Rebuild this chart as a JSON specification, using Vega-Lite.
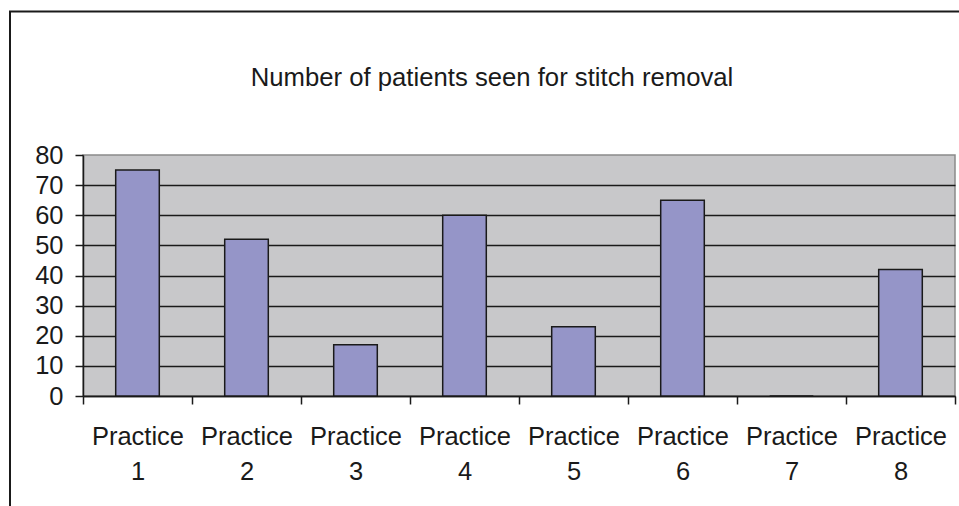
{
  "$schema": "https://vega.github.io/schema/vega-lite/v6.json",
  "width": 872,
  "height": 241,
  "autosize": {"type": "none"},
  "padding": {"left": 83, "top": 155, "right": 4, "bottom": 110},
  "background": "white",
  "title": {
    "text": "Number of patients seen for stitch removal",
    "font": "Liberation Sans",
    "fontSize": 25.7,
    "fontWeight": "normal",
    "color": "#1a1a1a",
    "anchor": "middle",
    "frame": "group",
    "dx": -27,
    "dy": 131,
    "baseline": "alphabetic",
    "offset": 30
  },
  "data": {
    "values": [
      {"practice": "Practice 1", "patients": 75},
      {"practice": "Practice 2", "patients": 52},
      {"practice": "Practice 3", "patients": 17},
      {"practice": "Practice 4", "patients": 60},
      {"practice": "Practice 5", "patients": 23},
      {"practice": "Practice 6", "patients": 65},
      {"practice": "Practice 7", "patients": 0},
      {"practice": "Practice 8", "patients": 42}
    ]
  },
  "mark": {"type": "bar", "fill": "#9595C8", "stroke": "#1a1a1a", "strokeWidth": 1.5, "width": {"band": 0.4}},
  "encoding": {
    "x": {
      "field": "practice",
      "type": "nominal",
      "sort": null,
      "scale": {"paddingInner": 0, "paddingOuter": 0},
      "axis": {
        "title": null,
        "labelAngle": 0,
        "labelExpr": "split(datum.label, ' ')",
        "labelFont": "Liberation Sans",
        "labelFontSize": 25.5,
        "labelColor": "#1a1a1a",
        "labelLineHeight": 35,
        "labelPadding": 20,
        "labelBaseline": "top",
        "tickBand": "extent",
        "tickSize": 8,
        "tickColor": "#1a1a1a",
        "tickWidth": 1.5,
        "domainColor": "#1a1a1a",
        "domainWidth": 1.5,
        "grid": false
      }
    },
    "y": {
      "field": "patients",
      "type": "quantitative",
      "scale": {"domain": [0, 80], "nice": false},
      "axis": {
        "title": null,
        "values": [0, 10, 20, 30, 40, 50, 60, 70, 80],
        "labelFont": "Liberation Sans",
        "labelFontSize": 25.5,
        "labelColor": "#1a1a1a",
        "labelPadding": 12,
        "tickSize": 8,
        "tickColor": "#1a1a1a",
        "tickWidth": 1.5,
        "domainColor": "#1a1a1a",
        "domainWidth": 1.5,
        "grid": true,
        "gridColor": "#1a1a1a",
        "gridWidth": 1.5,
        "gridOpacity": {"condition": {"test": "datum.value == 80", "value": 0}, "value": 1}
      }
    },
    "color": {
      "datum": 1,
      "type": "quantitative",
      "scale": {"range": ["#9595C8", "#9595C8"]},
      "legend": {
        "orient": "none",
        "legendX": -73,
        "legendY": -143.5,
        "direction": "horizontal",
        "title": null,
        "labelExpr": "''",
        "labelOpacity": 0,
        "gradientLength": 960,
        "gradientThickness": 505,
        "gradientOpacity": 0,
        "gradientStrokeWidth": 0,
        "padding": 0,
        "strokeColor": "#1a1a1a",
        "encode": {"legend": {"update": {"strokeWidth": {"value": 2}}}}
      }
    }
  },
  "config": {
    "view": {"fill": "#C8C8CA", "stroke": "#8a8a8a", "strokeWidth": 1.5}
  }
}
